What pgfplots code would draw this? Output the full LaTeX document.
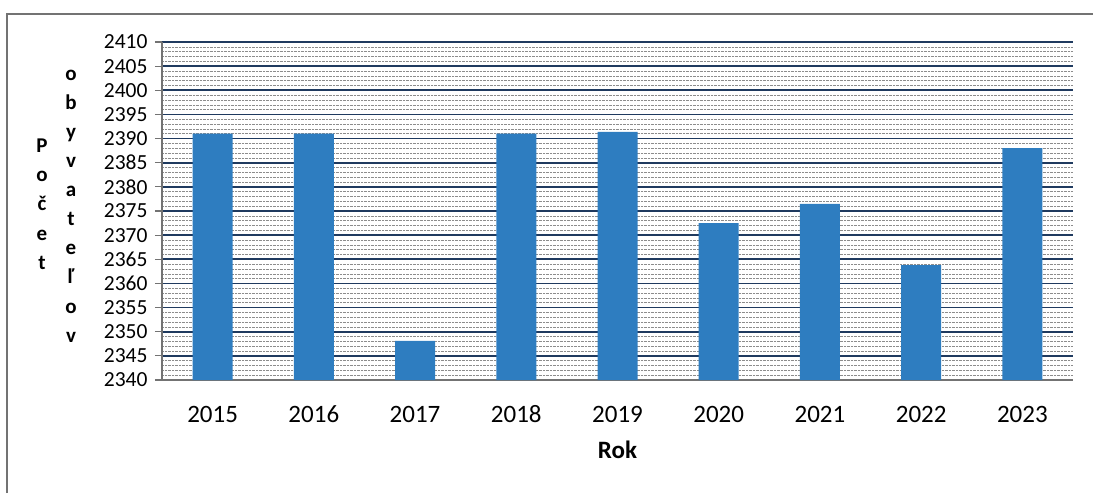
\documentclass[border=0pt]{standalone}
\usepackage{fontspec}
\setmainfont{Carlito}
\usepackage{pgfplots}
\pgfplotsset{compat=1.18}
\definecolor{barblue}{HTML}{2E7DC0}
\definecolor{gridnavy}{HTML}{1F3A5F}
\begin{document}
\begin{tikzpicture}[x=1pt,y=1pt]
\path[use as bounding box] (0,0) rectangle (1093,493);
\draw[black!55, line width=1.2pt] (7,0) -- (7,479) -- (1093,479);
\begin{axis}[
  at={(162pt,113pt)}, anchor=south west,
  scale only axis, width=911pt, height=338pt,
  ybar, bar width=40pt,
  xmin=-0.5, xmax=8.5, ymin=2340, ymax=2410,
  enlargelimits=false,
  axis lines*=left,
  axis line style={black!55, line width=1.2pt},
  tick align=outside,
  major tick length=7pt,
  minor tick length=0pt,
  ytick={2340,2345,...,2410},
  minor y tick num=4,
  ymajorgrids, yminorgrids,
  major grid style={gridnavy, line width=1.8pt},
  minor grid style={black!45, densely dotted, line width=0.5pt},
  y tick style={draw=black!55, line width=1.2pt},
  xtick={0,...,8},
  xticklabels={2015,2016,2017,2018,2019,2020,2021,2022,2023},
  x tick style={draw=none},
  extra x ticks={-0.5,0.5,1.5,2.5,3.5,4.5,5.5,6.5,7.5,8.5},
  extra x tick labels={},
  extra x tick style={grid=none, tick style={draw=black!55, line width=1.2pt}},
  /pgf/number format/assume math mode=true,
  /pgf/number format/1000 sep={},
  yticklabel style={font=\fontsize{21.5}{21.5}\selectfont, xshift=-4pt},
  xticklabel style={font=\fontsize{25}{25}\selectfont, anchor=base, yshift=-35pt},
  xlabel={Rok},
  xlabel style={font=\bfseries\fontsize{25}{25}\selectfont, at={(axis description cs:0.5,0)}, anchor=center, yshift=-70pt},
]
\addplot[fill=barblue, draw=none] coordinates {
  (0,2391) (1,2391) (2,2348.1) (3,2391) (4,2391.4)
  (5,2372.5) (6,2376.5) (7,2363.8) (8,2388)
};
\end{axis}
\node[font=\bfseries\fontsize{21}{29.3}\selectfont, align=center] at (42,289) {P\\o\\č\\e\\t};
\node[font=\bfseries\fontsize{21}{29.1}\selectfont, align=center] at (71,287) {o\\b\\y\\v\\a\\t\\e\\ľ\\o\\v};
\end{tikzpicture}
\end{document}
